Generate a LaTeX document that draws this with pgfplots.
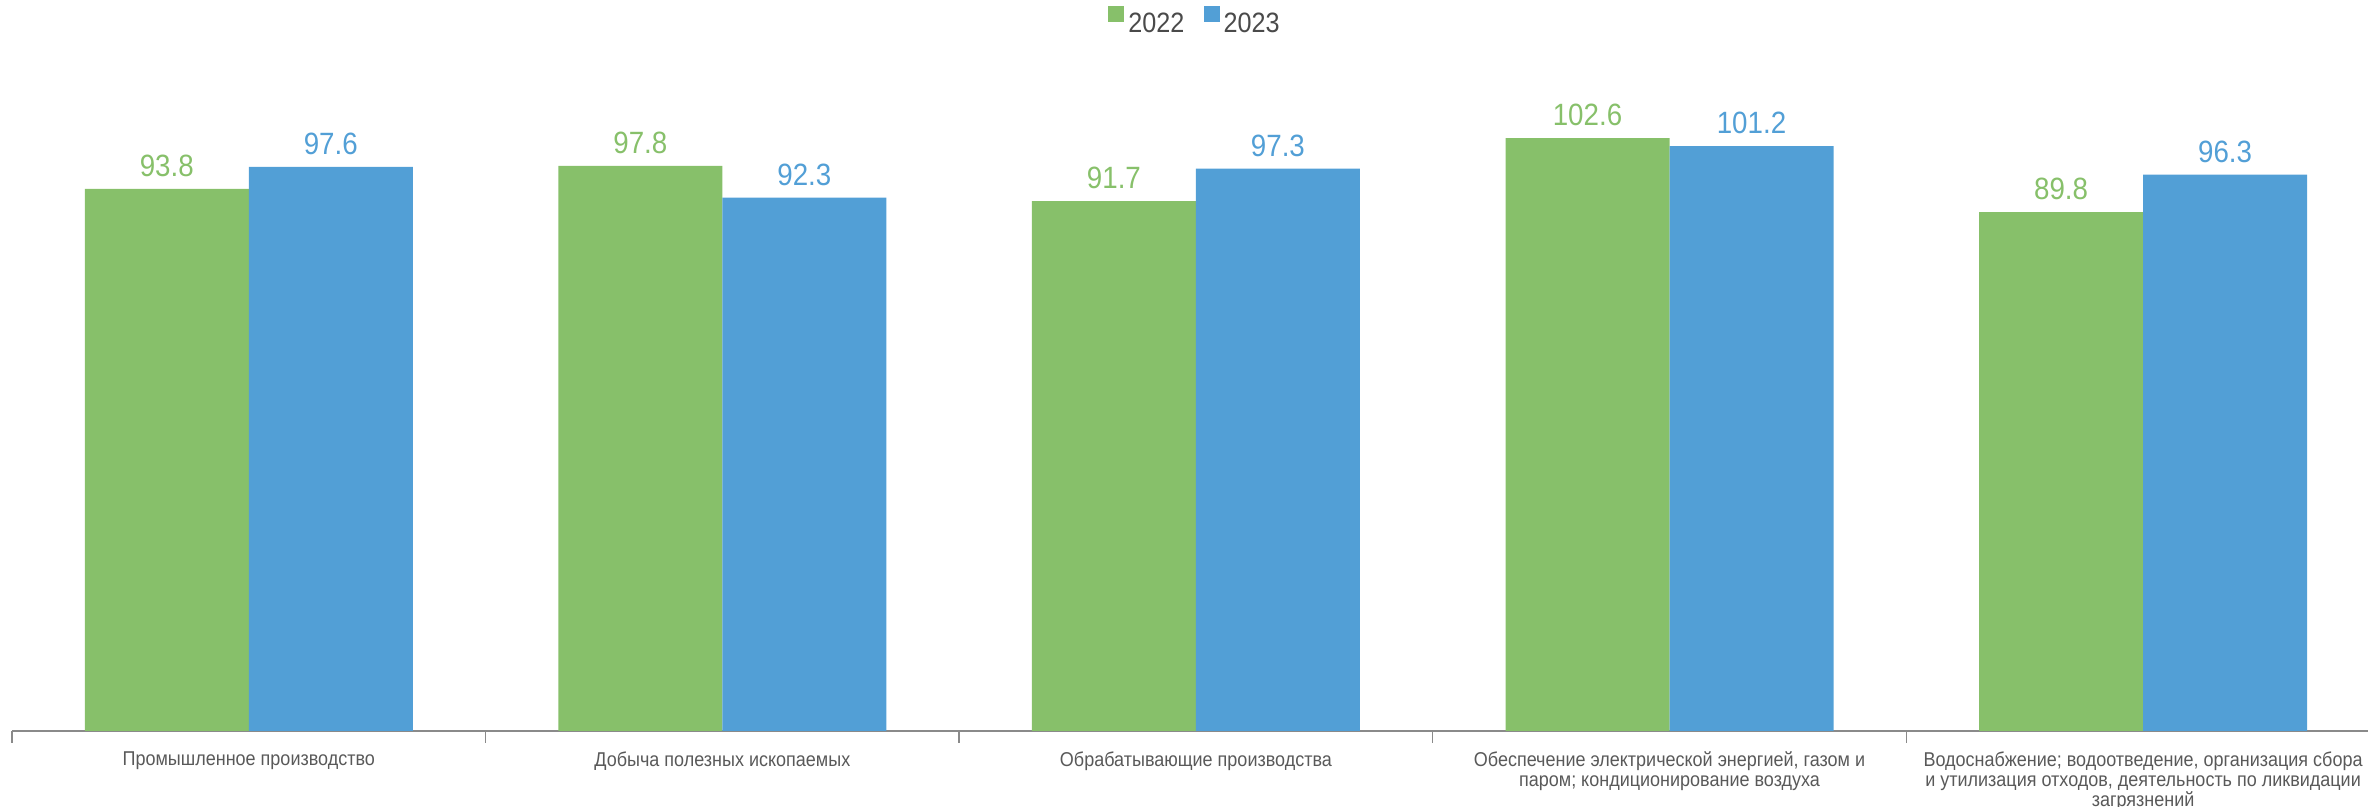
\documentclass[border=0pt]{standalone}
\usepackage{fontspec}
\setmainfont{Liberation Sans}[FakeStretch=0.9]
\usepackage{pgfplots}
\pgfplotsset{compat=1.18}

\definecolor{cgreen}{RGB}{135,192,106}
\definecolor{cblue}{RGB}{82,159,214}
\definecolor{axisgray}{RGB}{138,138,138}
\definecolor{labelgray}{RGB}{89,89,89}
\definecolor{legendgray}{RGB}{74,74,74}

\begin{document}
\begin{tikzpicture}
\begin{axis}[
  at={(6pt,38pt)}, anchor=south west,
  scale only axis, width=1184pt, height=365.5pt,
  xmin=-0.5, xmax=4.5, ymin=0, ymax=126.5,
  ybar=0pt, bar width=82pt,
  axis x line*=bottom, axis y line=none,
  axis line style={draw=axisgray, line width=0.75pt},
  xtick={0,1,2,3,4},
  major tick length=0pt,
  minor xtick={-0.5,0.5,1.5,2.5,3.5,4.5},
  minor tick length=6pt,
  tick align=outside,
  tick style={draw=axisgray, line width=0.75pt},
  ytick=\empty,
  xticklabels={
    {Промышленное производство},
    {Добыча полезных ископаемых},
    {Обрабатывающие производства},
    {Обеспечение электрической энергией, газом и\\паром; кондиционирование воздуха},
    {Водоснабжение; водоотведение, организация сбора\\и утилизация отходов, деятельность по ликвидации\\загрязнений}
  },
  xticklabel style={anchor=north, align=center, inner sep=0pt, yshift=-10pt,
    font=\fontsize{10}{10}\selectfont, text=labelgray},
  /pgf/number format/assume math mode=true,
  nodes near coords={\pgfmathprintnumber[fixed,precision=1,zerofill]{\pgfplotspointmeta}},
  nodes near coords style={anchor=base, inner sep=0pt, yshift=6.2pt,
    font=\fontsize{15.4}{18}\selectfont},
  legend columns=2,
  legend style={at={(0.5,1)}, anchor=center, yshift=-11.5pt, xshift=0pt,
    draw=none, fill=none, inner sep=0pt,
    font=\fontsize{14}{16}\selectfont, text=legendgray,
    nodes={inner sep=1.9pt},
    /tikz/every even column/.append style={column sep=7.8pt}},
]
\addplot[fill=cgreen, draw=none,
  every node near coord/.append style={text=cgreen},
  legend image code/.code={\fill[cgreen] (0pt,1pt) rectangle (8pt,9pt);}]
  coordinates {(0,93.8) (1,97.8) (2,91.7) (3,102.6) (4,89.8)};
\addlegendentry{2022}
\addplot[fill=cblue, draw=none,
  every node near coord/.append style={text=cblue},
  legend image code/.code={\fill[cblue] (0pt,1pt) rectangle (8pt,9pt);}]
  coordinates {(0,97.6) (1,92.3) (2,97.3) (3,101.2) (4,96.3)};
\addlegendentry{2023}
\end{axis}
\pgfresetboundingbox
\path (0,0) rectangle (1184pt,403.5pt);
\end{tikzpicture}
\end{document}
